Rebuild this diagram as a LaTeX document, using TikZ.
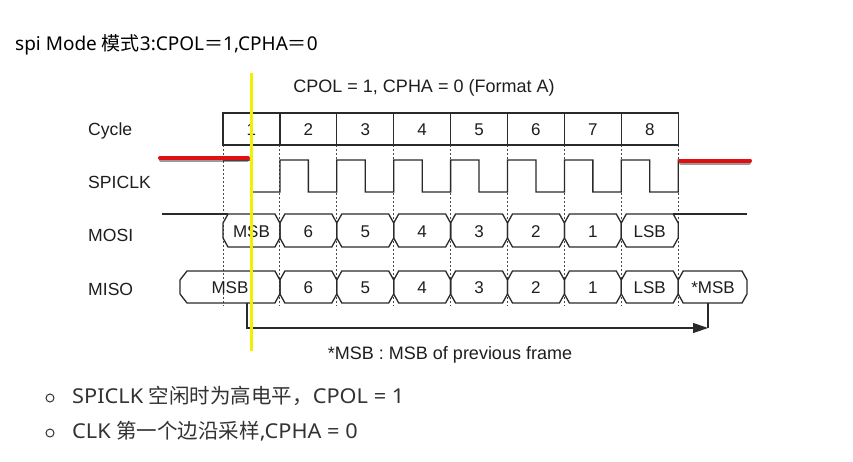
\documentclass[tikz,border=0pt]{standalone}
\usepackage{fontspec}
\setmainfont{Liberation Sans}
\newfontfamily\cjk{Noto Sans CJK SC}
\newfontfamily\latf{Noto Sans}
\newfontfamily\latb[FakeStretch=1.06]{Noto Sans}
\usetikzlibrary{arrows.meta}
\definecolor{ln}{HTML}{2A2A2A}
\definecolor{txt}{HTML}{1E1E1E}
\definecolor{btxt}{HTML}{333333}
\definecolor{yel}{HTML}{F0F000}
\definecolor{redl}{HTML}{E01010}
\begin{document}
\begin{tikzpicture}[x=1pt,y=-1pt,
  sig/.style={draw=ln, line width=1.3pt, line join=miter},
  gridl/.style={draw=ln!85, line width=1pt, dash pattern=on 1.6pt off 2.4pt},
  lab/.style={font=\fontsize{17.6}{20}\selectfont, text=txt, inner sep=0, anchor=base west},
  num/.style={font=\fontsize{17}{20}\selectfont, text=txt, inner sep=0, anchor=base},
  bul/.style={font=\latb\fontsize{20.5}{24}\selectfont, text=btxt, inner sep=0, anchor=base west},
  dotb/.style={circle, draw=btxt, line width=1pt, inner sep=0, minimum size=8pt},
  redline/.style={draw=redl, line width=4pt, line cap=round},
  shadowline/.style={draw=black, opacity=0.4, line width=4pt, line cap=round}]
\useasboundingbox (0,0) rectangle (853,461);
\fill[white] (0,0) rectangle (853,461);

% heading
\node[anchor=base west, inner sep=0, font=\latf\fontsize{19}{22}\selectfont, text=black] (head) at (15,50) {spi Mode {\cjk 模式}3:CPOL{\cjk ＝}1,CPHA{\cjk ＝}0};

% diagram title
\node[num, font=\fontsize{18}{20}\selectfont] (ttl) at (424,92) {CPOL = 1, CPHA = 0 (Format A)};

% row labels
\node[lab] (lcyc) at (88,135) {Cycle};
\node[lab] (lclk) at (88,188) {SPICLK};
\node[lab] (lmosi) at (88,241) {MOSI};
\node[lab] (lmiso) at (88,295) {MISO};

% dotted grid
\foreach \k in {0,...,8} {
  \draw[gridl] ({223+56.9*\k},145) -- ({223+56.9*\k},306);
}

% cycle boxes
\draw[sig] (223,113) rectangle (678.2,145);
\foreach \k in {1,...,7} {
  \draw[sig] ({223+56.9*\k},113) -- ({223+56.9*\k},145);
}
\foreach \k in {1,...,8} {
  \node[num] (cyc\k) at ({223+56.9*\k-28.45},135) {\k};
}

% clock
\draw[sig] (223,160) -- (251.45,160) -- (251.45,192) -- (279.9,192)
  \foreach \k in {1,...,7} {
    -- ({223+56.9*\k},160) -- ({223+56.9*\k+28.45},160)
    -- ({223+56.9*\k+28.45},192) -- ({223+56.9*(\k+1)},192)
  } -- (678.2,160) -- (682,160);

% MOSI
\draw[sig] (162,214) -- (228,214);
\draw[sig] (673.2,214) -- (747,214);
\foreach \t [count=\k from 0] in {MSB,6,5,4,3,2,1,LSB} {
  \pgfmathsetmacro\xa{223+56.9*\k}
  \pgfmathsetmacro\xb{223+56.9*(\k+1)}
  \draw[sig] ({\xa+5},214) -- ({\xb-5},214) -- (\xb,223) -- (\xb,238)
    -- ({\xb-5},247) -- ({\xa+5},247) -- (\xa,238) -- (\xa,223) -- cycle;
  \node[num] (mosi\k) at ({(\xa+\xb)/2},237) {\t};
}

% MISO
\draw[sig] (187,271) -- (274.9,271) -- (279.9,280) -- (279.9,294)
  -- (274.9,303) -- (187,303) -- (180,294) -- (180,280) -- cycle;
\node[num] (miso0) at (230,293) {MSB};
\foreach \t [count=\k from 1] in {6,5,4,3,2,1,LSB} {
  \pgfmathsetmacro\xa{223+56.9*\k}
  \pgfmathsetmacro\xb{223+56.9*(\k+1)}
  \draw[sig] ({\xa+5},271) -- ({\xb-5},271) -- (\xb,280) -- (\xb,294)
    -- ({\xb-5},303) -- ({\xa+5},303) -- (\xa,294) -- (\xa,280) -- cycle;
  \node[num] (miso\k) at ({(\xa+\xb)/2},293) {\t};
}
\draw[sig] (683.2,271) -- (742,271) -- (747,280) -- (747,294)
  -- (742,303) -- (683.2,303) -- (678.2,294) -- (678.2,280) -- cycle;
\node[num] (miso8) at (713,293) {*MSB};

% frame arrow
\coordinate (aS) at (247,303);
\coordinate (aE) at (708,328);
\coordinate (aT) at (708,303);
\draw[sig] (aT) -- (aE);
\draw[sig, -{Triangle[length=15pt,width=10pt]}] (aS) |- (aE);
\node[num, font=\fontsize{18}{20}\selectfont] (fn) at (450,359) {*MSB : MSB of previous frame};

% red idle-level marks
\draw[shadowline] (161,160) -- (247,160);
\draw[redline] (160,158) -- (248,158);
\draw[shadowline] (681,162.5) -- (749,162.5);
\draw[redline] (680,160.5) -- (750,160.5);

% yellow marker
\draw[draw=yel, line width=3pt] (251,73) -- (251,351);

% bullets
\node[dotb] (b1) at (50,398) {};
\node[bul] (t1) at (72,403) {SPICLK {\cjk 空闲时为高电平，}CPOL = 1};
\node[dotb] (b2) at (50,433) {};
\node[bul] (t2) at (72,438) {CLK {\cjk 第一个边沿采样},CPHA = 0};
\end{tikzpicture}
\end{document}
